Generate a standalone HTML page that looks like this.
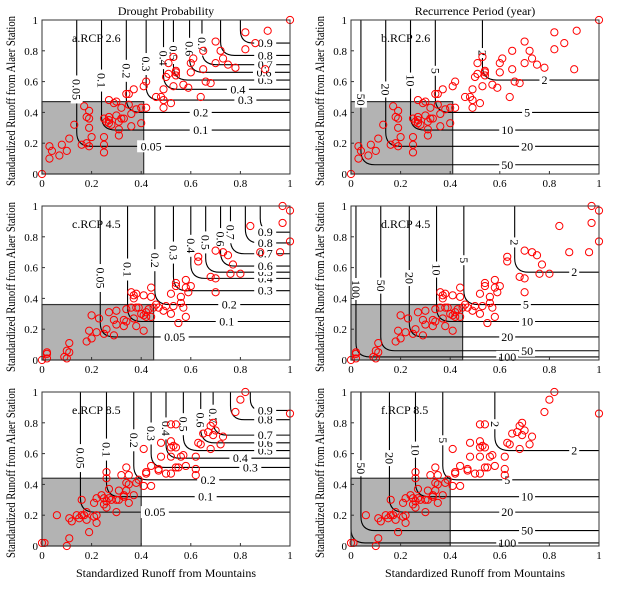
<!DOCTYPE html>
<html><head><meta charset="utf-8"><style>
body{margin:0;background:#fff}
svg text{font-family:"Liberation Serif",serif;fill:#000}
</style></head><body>
<svg id="s" width="624" height="585" xmlns="http://www.w3.org/2000/svg"></svg>
<script>
const S=document.getElementById('s');let h='';
const cols=[42,351],W=248,H=154,rows=[20,206,392];
const A=[[0,0],[.03,.1],[.03,.18],[.04,.15],[.07,.12],[.08,.19],[.1,.15],[.11,.23],[.13,.32],[.16,.19],[.17,.44],[.18,.2],[.18,.37],[.19,.41],[.19,.18],[.19,.3],[.19,.36],[.2,.24],[.25,.14],[.25,.19],[.25,.24],[.25,.36],[.26,.34],[.27,.33],[.27,.37],[.27,.35],[.28,.32],[.27,.48],[.29,.46],[.3,.47],[.3,.38],[.31,.34],[.31,.25],[.31,.29],[.32,.43],[.32,.36],[.33,.36],[.34,.52],[.35,.52],[.35,.45],[.36,.31],[.36,.39],[.37,.55],[.38,.42],[.4,.33],[.4,.43],[.41,.57],[.42,.43],[.42,.6],[.46,.5],[.48,.5],[.49,.55],[.49,.48],[.49,.43],[.5,.63],[.51,.72],[.51,.65],[.52,.46],[.53,.57],[.53,.76],[.54,.66],[.54,.64],[.54,.67],[.57,.58],[.59,.56],[.6,.66],[.6,.72],[.61,.75],[.64,.5],[.65,.68],[.65,.8],[.66,.6],[.68,.59],[.7,.72],[.7,.86],[.72,.8],[.73,.75],[.75,.71],[.78,.69],[.82,.81],[.82,.92],[.86,.85],[.9,.68],[.91,.93],[1,1]];
const C=[[0,0],[.02,.01],[.02,.04],[.02,.05],[.09,.02],[.1,.06],[.1,.01],[.11,.05],[.11,.11],[.18,.12],[.19,.19],[.2,.14],[.2,.29],[.22,.18],[.23,.27],[.25,.17],[.26,.2],[.27,.31],[.29,.16],[.29,.26],[.3,.32],[.3,.23],[.33,.26],[.33,.22],[.34,.25],[.34,.33],[.36,.34],[.36,.44],[.37,.42],[.37,.27],[.37,.4],[.38,.34],[.38,.22],[.38,.43],[.39,.34],[.4,.3],[.41,.29],[.41,.19],[.41,.42],[.42,.28],[.42,.31],[.43,.33],[.44,.47],[.44,.41],[.44,.28],[.45,.34],[.46,.36],[.47,.34],[.49,.32],[.5,.35],[.52,.3],[.52,.43],[.53,.35],[.54,.5],[.54,.48],[.55,.24],[.56,.41],[.56,.37],[.57,.34],[.58,.28],[.58,.47],[.58,.52],[.59,.44],[.6,.48],[.63,.67],[.63,.64],[.68,.54],[.7,.53],[.7,.44],[.7,.71],[.73,.7],[.75,.68],[.76,.56],[.77,.62],[.8,.56],[.84,.87],[.88,.7],[.96,.7],[.97,1],[.97,.89],[1,.97],[1,.77]];
const E=[[0,.02],[.01,.02],[.06,.2],[.1,0],[.11,.05],[.11,.18],[.12,.16],[.14,.2],[.15,.18],[.16,.2],[.16,.3],[.17,.2],[.18,.17],[.18,.22],[.19,.09],[.21,.28],[.21,.19],[.22,.2],[.22,.15],[.22,.31],[.24,.33],[.25,.27],[.25,.31],[.26,.29],[.26,.48],[.26,.25],[.26,.44],[.27,.37],[.27,.31],[.28,.3],[.3,.3],[.3,.22],[.31,.36],[.31,.3],[.32,.46],[.33,.32],[.33,.33],[.34,.41],[.34,.51],[.34,.36],[.35,.46],[.35,.28],[.35,.4],[.37,.33],[.38,.41],[.39,.43],[.41,.39],[.41,.63],[.42,.47],[.42,.48],[.44,.52],[.44,.39],[.47,.49],[.47,.5],[.48,.58],[.48,.67],[.5,.47],[.52,.79],[.52,.47],[.52,.64],[.52,.68],[.52,.58],[.53,.65],[.54,.79],[.54,.51],[.54,.64],[.55,.51],[.56,.58],[.57,.59],[.58,.52],[.62,.46],[.62,.58],[.62,.5],[.63,.67],[.64,.66],[.65,.73],[.67,.74],[.68,.78],[.68,.63],[.69,.8],[.69,.72],[.7,.75],[.72,.66],[.73,.71],[.78,.87],[.8,.95],[.82,1],[1,.86]];
const PL=['0.05','0.1','0.2','0.3','0.4','0.5','0.6','0.7','0.8','0.9'];
const rowsData=[
 {pts:A,box:[.41,.47],tag:'RCP 2.6',l:['a','b'],
  pc:[[.14,.18],[.24,.285],[.34,.40],[.42,.48],[.49,.55],[.53,.61],[.595,.66],[.645,.71],[.72,.77],[.80,.85]],
  rc:[[.04,.06,'50'],[.14,.18,'20'],[.24,.285,'10'],[.34,.40,'5'],[.53,.61,'2']]},
 {pts:C,box:[.45,.36],tag:'RCP 4.5',l:['c','d'],
  pc:[[.235,.15],[.345,.25],[.455,.36],[.53,.45],[.6,.53],[.66,.57],[.72,.61],[.76,.69],[.82,.76],[.88,.83]],
  rc:[[.02,.02,'100'],[.12,.06,'50'],[.235,.15,'20'],[.345,.25,'10'],[.455,.36,'5'],[.66,.57,'2']]},
 {pts:E,box:[.40,.44],tag:'RCP 8.5',l:['e','f'],
  pc:[[.155,.22],[.26,.32],[.37,.43],[.44,.51],[.5,.57],[.57,.62],[.64,.67],[.69,.72],[.76,.82],[.84,.88]],
  rc:[[.0,.02,'100'],[.04,.10,'50'],[.155,.22,'20'],[.26,.32,'10'],[.37,.43,'5'],[.58,.62,'2']]}];
function lab(x,y,t,rot){const w=t.length*6+4;
 if(rot) return `<g transform="translate(${x},${y}) rotate(90)"><rect x="${-w/2}" y="-6" width="${w}" height="12" fill="#fff"/><text x="0" y="4" font-size="12" text-anchor="middle">${t}</text></g>`;
 return `<rect x="${x-w/2}" y="${y-6}" width="${w}" height="12" fill="#fff"/><text x="${x}" y="${y+4}" font-size="12" text-anchor="middle">${t}</text>`;}
rows.forEach((top,ri)=>{const R=rowsData[ri];
 cols.forEach((left,ci)=>{
  const X=v=>left+v*W,Y=v=>top+(1-v)*H;
  h+=`<rect x="${X(0)}" y="${Y(R.box[1])}" width="${R.box[0]*W}" height="${R.box[1]*H}" fill="#b3b3b3" stroke="#333" stroke-width="1.2"/>`;
  const cs=ci==0?R.pc.map((c,i)=>[c[0],c[1],PL[i]]):R.rc;
  let labs='';
  cs.forEach((c,i)=>{const a=X(c[0]),b=Y(c[1]);const r=Math.min(14,(1-c[1])*H*0.3+6);
   h+=`<path d="M${a},${top} L${a},${b-r} Q${a},${b} ${a+r},${b} L${left+W},${b}" fill="none" stroke="#000" stroke-width="1.1"/>`;
   let vy=c[1]+(1-c[1])*0.45;
   if(c[0]>0.01 && (1-c[1])*H>40) labs+=lab(a,Y(vy),c[2],true);
   let hx=Math.min(0.9,c[0]+0.3+((i%2)?0.1:0));
   if(ci==1) hx=Math.min(0.9,Math.max(0.63,c[0]+0.25)+((i%2)?0.08:0));
   if(c[1]>0.015) labs+=lab(X(hx),b,c[2],false);
  });
  h+=labs;
  R.pts.forEach(p=>{h+=`<circle cx="${X(p[0])}" cy="${Y(p[1])}" r="3.6" fill="none" stroke="#f00" stroke-width="1"/>`;});
  h+=`<rect x="${left}" y="${top}" width="${W}" height="${H}" fill="none" stroke="#333" stroke-width="1"/>`;
  h+=`<text x="${left+30}" y="${top+22}" font-size="12">${R.l[ci]}.${R.tag}</text>`;
  for(let k=0;k<=5;k++){const v=k/5,t=k==0?'0':k==5?'1':v.toFixed(1);
   h+=`<line x1="${X(v)}" y1="${top+H}" x2="${X(v)}" y2="${top+H-3}" stroke="#333"/><text x="${X(v)}" y="${top+H+13}" font-size="11" text-anchor="middle">${t}</text>`;
   h+=`<line x1="${left}" y1="${Y(v)}" x2="${left+3}" y2="${Y(v)}" stroke="#333"/><text x="${left-4}" y="${Y(v)+4}" font-size="11" text-anchor="end">${t}</text>`;}
  h+=`<text transform="translate(${left-27},${top+H/2+4}) rotate(-90)" font-size="12.5" text-anchor="middle" textLength="170" lengthAdjust="spacingAndGlyphs">Standardized Runoff from Alaer Station</text>`;
  if(ri==2) h+=`<text x="${left+W/2}" y="577" font-size="12" text-anchor="middle">Standardized Runoff from Mountains</text>`;
 });});
h+=`<rect x="120" y="3" width="100" height="14" fill="#fff"/><text x="166" y="15" font-size="12" text-anchor="middle">Drought Probability</text>`;
h+=`<text x="475" y="15" font-size="12" text-anchor="middle">Recurrence Period (year)</text>`;
S.innerHTML=h;
</script>
</body></html>
